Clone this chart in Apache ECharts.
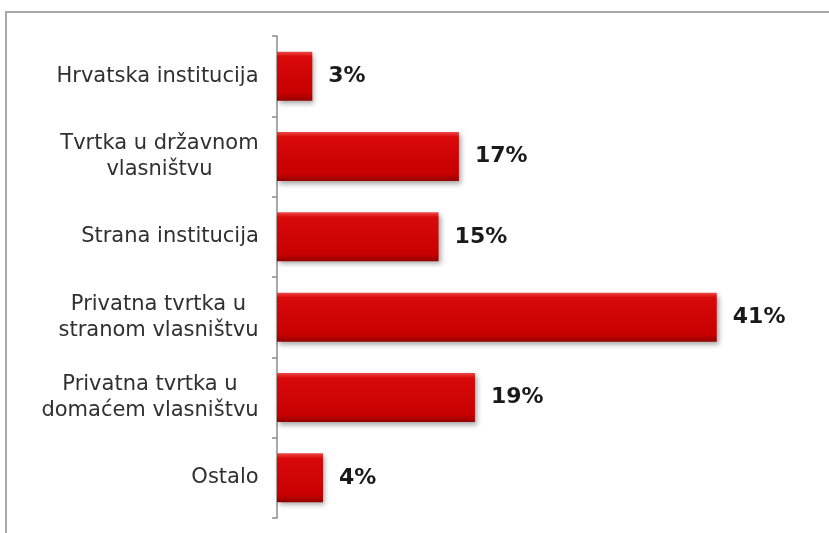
<!DOCTYPE html>
<html>
<head>
<meta charset="utf-8">
<script src="https://cdn.jsdelivr.net/npm/echarts@6/dist/echarts.min.js"></script>
<style>
html,body{margin:0;padding:0;background:#fff;}
#main{width:829px;height:533px;}
</style>
</head>
<body>
<div id="main"></div>
<script>
// categories top to bottom
var categories = [
    'Hrvatska institucija',
    'Tvrtka u državnom\nvlasništvu',
    'Strana institucija',
    'Privatna tvrtka u\nstranom vlasništvu',
    'Privatna tvrtka u\ndomaćem vlasništvu',
    'Ostalo'
];
var values = [3.3, 17, 15.1, 41.1, 18.5, 4.3];

var labelSize = 21;

// measure widest line of each label so lines can be centred inside a right aligned block
var cv = document.createElement('canvas').getContext('2d');
cv.font = labelSize + 'px "DejaVu Sans"';
var rich = {};
for (var i = 0; i < categories.length; i++) {
    var lines = categories[i].split('\n');
    var w = 0;
    for (var j = 0; j < lines.length; j++) {
        w = Math.max(w, cv.measureText(lines[j]).width);
    }
    rich['c' + i] = {
        width: Math.ceil(w),
        align: 'center',
        fontSize: labelSize,
        fontFamily: 'DejaVu Sans',
        color: '#303030',
        lineHeight: 26
    };
}

var myChart = echarts.init(document.getElementById('main'));
var option = {
    backgroundColor: '#fff',
    animation: false,
    graphic: [{
        type: 'rect',
        shape: {x: 6, y: 12, width: 900, height: 600},
        style: {fill: 'none', stroke: '#a8a8a8', lineWidth: 2},
        z: -1
    }],
    grid: {left: 277, right: 17, top: 36, bottom: 15},
    xAxis: {
        type: 'value',
        min: 0,
        max: 50,
        show: false
    },
    yAxis: {
        type: 'category',
        inverse: true,
        data: categories,
        axisLine: {show: true, lineStyle: {color: '#8c8c8c', width: 1.5}},
        axisTick: {show: true, length: 5, lineStyle: {color: '#8c8c8c', width: 1.5}},
        axisLabel: {
            margin: 18,
            align: 'right',
            formatter: function (val, idx) {
                return val.split('\n').map(function (l) {
                    return '{c' + idx + '|' + l + '}';
                }).join('\n');
            },
            rich: rich
        }
    },
    series: [{
        type: 'bar',
        data: values,
        barWidth: 49,
        itemStyle: {
            color: new echarts.graphic.LinearGradient(0, 0, 0, 1, [
                {offset: 0, color: '#f04848'},
                {offset: 0.1, color: '#d80a0a'},
                {offset: 0.85, color: '#c80000'},
                {offset: 1, color: '#940000'}
            ]),
            shadowColor: 'rgba(0,0,0,0.35)',
            shadowBlur: 5,
            shadowOffsetX: 2,
            shadowOffsetY: 3
        },
        label: {
            show: true,
            position: 'right',
            distance: 16,
            fontFamily: 'DejaVu Sans',
            fontWeight: 'bold',
            fontSize: 22,
            color: '#1a1a1a',
            formatter: function (p) {
                return Math.round(p.value) + '%';
            }
        }
    }]
};
myChart.setOption(option);
</script>
</body>
</html>
